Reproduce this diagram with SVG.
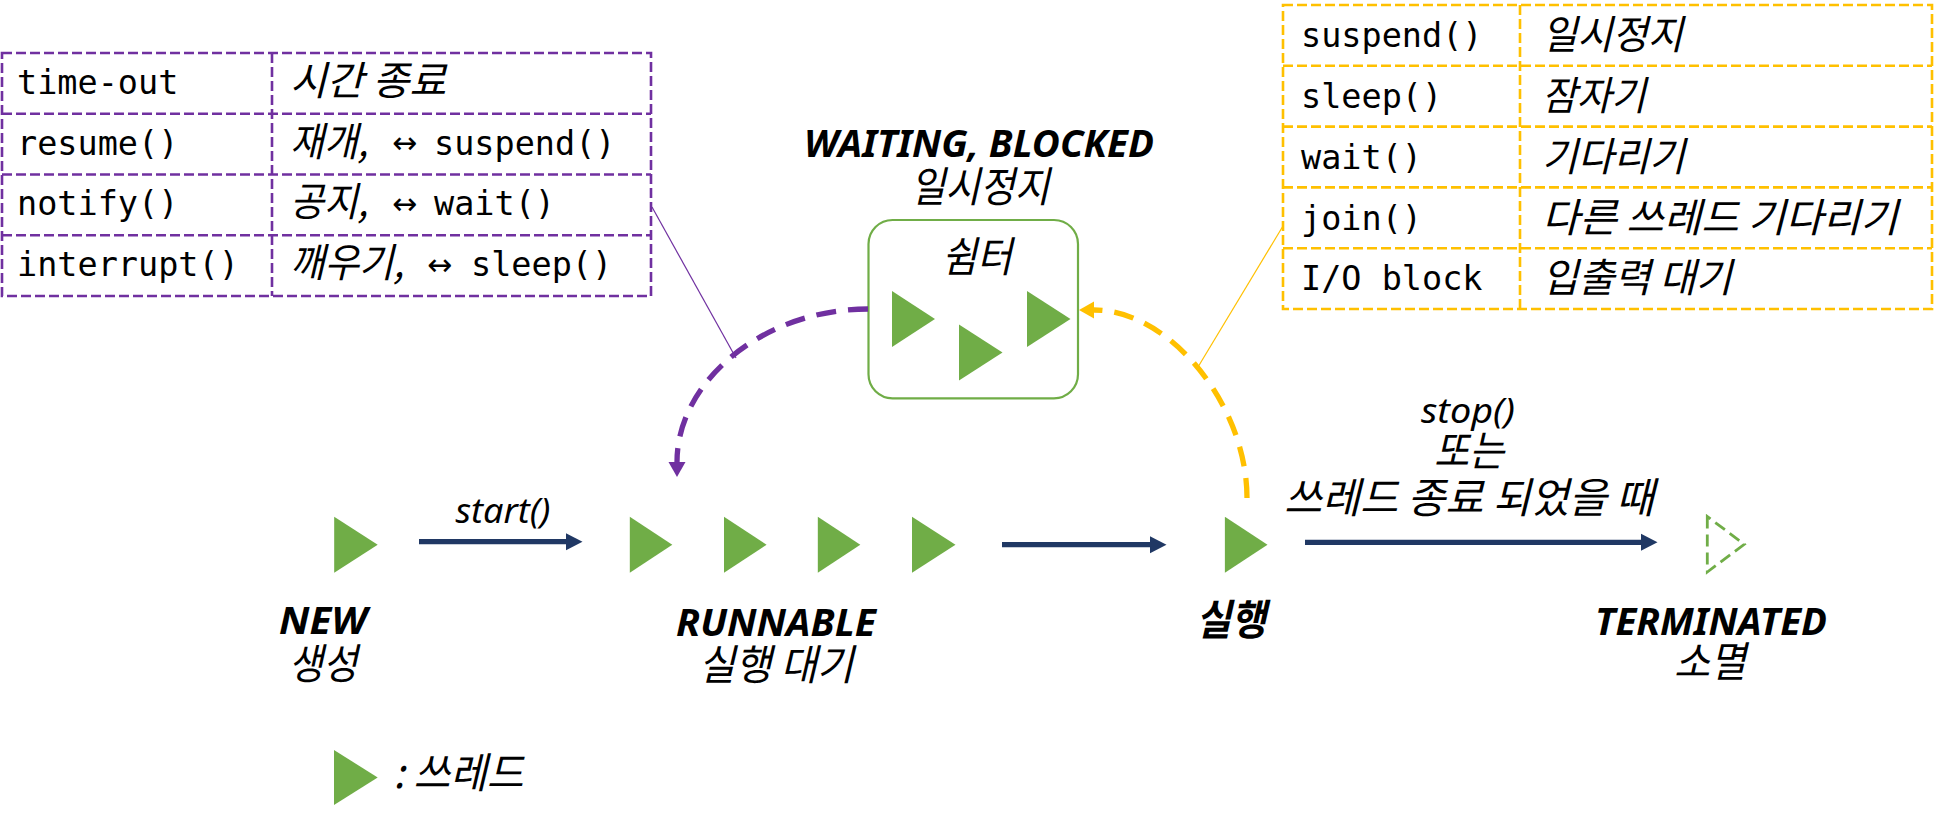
<svg xmlns="http://www.w3.org/2000/svg" width="1936" height="823" viewBox="0 0 1936 823">
<style>
.lbl{font-family:"Noto Sans","Noto Sans CJK KR",sans-serif;font-style:italic;font-weight:bold;font-size:38px;fill:#000;text-anchor:middle}
.kor{font-family:"Noto Sans CJK KR","Noto Sans",sans-serif;font-style:italic;font-size:42px;fill:#000;text-anchor:middle}
.korb{font-family:"Noto Sans CJK KR","Noto Sans",sans-serif;font-style:italic;font-weight:bold;font-size:42px;fill:#000;text-anchor:middle}
.it{font-family:"Noto Sans","Noto Sans CJK KR",sans-serif;font-style:italic;font-size:34px;fill:#000;text-anchor:middle}
.mono{font-family:"DejaVu Sans Mono","Liberation Mono",monospace;font-size:33.5px;fill:#000}
.kt{font-family:"Noto Sans CJK KR","Noto Sans",sans-serif;font-style:italic;font-size:40px;fill:#000}
.ar{font-family:"DejaVu Sans",sans-serif;font-size:30px;fill:#000}
.thr{fill:#70AD47}
.ptab{fill:none;stroke:#7030A0;stroke-width:2.6;stroke-dasharray:10 4}
.ytab{fill:none;stroke:#FFC000;stroke-width:2.6;stroke-dasharray:10 4}
.nav{stroke:#203864;stroke-width:5.3;fill:none}
</style>
<defs>
<marker id="ahN" markerUnits="userSpaceOnUse" markerWidth="20" markerHeight="20" refX="0" refY="0" orient="auto" overflow="visible">
<path d="M0,-8.5 L16.5,0 L0,8.5 z" fill="#203864"/>
</marker>
<marker id="ahP" markerUnits="userSpaceOnUse" markerWidth="20" markerHeight="20" refX="0" refY="0" orient="auto" overflow="visible">
<path d="M0,-8.5 L15,0 L0,8.5 z" fill="#7030A0"/>
</marker>
<marker id="ahY" markerUnits="userSpaceOnUse" markerWidth="20" markerHeight="20" refX="0" refY="0" orient="auto" overflow="visible">
<path d="M0,-8.5 L15,0 L0,8.5 z" fill="#FFC000"/>
</marker>
</defs>
<rect width="1936" height="823" fill="#fff"/>

<g id="purple-table">
<rect class="ptab" x="2" y="53" width="649" height="243"/>
<line class="ptab" x1="2" y1="113.75" x2="651" y2="113.75"/>
<line class="ptab" x1="2" y1="174.5" x2="651" y2="174.5"/>
<line class="ptab" x1="2" y1="235.25" x2="651" y2="235.25"/>
<line class="ptab" x1="272" y1="53" x2="272" y2="296"/>
<text class="mono" x="17" y="94">time-out</text>
<text class="mono" x="17" y="154.5">resume()</text>
<text class="mono" x="17" y="215">notify()</text>
<text class="mono" x="17" y="276">interrupt()</text>
<text class="kt" x="290" y="95" textLength="156" lengthAdjust="spacingAndGlyphs">시간 종료</text>
<text class="kt" x="290" y="155.5" textLength="78" lengthAdjust="spacingAndGlyphs">재개,</text>
<text class="ar" x="392" y="153">↔</text>
<text class="mono" x="434" y="154.5">suspend()</text>
<text class="kt" x="290" y="216" textLength="78" lengthAdjust="spacingAndGlyphs">공지,</text>
<text class="ar" x="392" y="214">↔</text>
<text class="mono" x="434" y="215">wait()</text>
<text class="kt" x="290" y="277" textLength="114" lengthAdjust="spacingAndGlyphs">깨우기,</text>
<text class="ar" x="427" y="275">↔</text>
<text class="mono" x="471" y="276">sleep()</text>
</g>

<g id="yellow-table">
<rect class="ytab" x="1283" y="5" width="649" height="304"/>
<line class="ytab" x1="1283" y1="65.8" x2="1932" y2="65.8"/>
<line class="ytab" x1="1283" y1="126.6" x2="1932" y2="126.6"/>
<line class="ytab" x1="1283" y1="187.4" x2="1932" y2="187.4"/>
<line class="ytab" x1="1283" y1="248.2" x2="1932" y2="248.2"/>
<line class="ytab" x1="1520" y1="5" x2="1520" y2="309"/>
<text class="mono" x="1301" y="47">suspend()</text>
<text class="mono" x="1301" y="108">sleep()</text>
<text class="mono" x="1301" y="168.5">wait()</text>
<text class="mono" x="1301" y="229.5">join()</text>
<text class="mono" x="1301" y="290">I/O block</text>
<text class="kt" x="1542" y="49" textLength="141" lengthAdjust="spacingAndGlyphs">일시정지</text>
<text class="kt" x="1542" y="110" textLength="104" lengthAdjust="spacingAndGlyphs">잠자기</text>
<text class="kt" x="1542" y="170.5" textLength="143" lengthAdjust="spacingAndGlyphs">기다리기</text>
<text class="kt" x="1542" y="231.5" textLength="356" lengthAdjust="spacingAndGlyphs">다른 쓰레드 기다리기</text>
<text class="kt" x="1542" y="292" textLength="190" lengthAdjust="spacingAndGlyphs">입출력 대기</text>
</g>

<g id="waiting">
<text class="lbl" x="979" y="157" textLength="350" lengthAdjust="spacingAndGlyphs">WAITING, BLOCKED</text>
<text class="kor" x="980" y="202" textLength="139" lengthAdjust="spacingAndGlyphs">일시정지</text>
<rect x="868.5" y="220" width="209.5" height="178.3" rx="24" fill="#fff" stroke="#70AD47" stroke-width="2.2"/>
<text class="kor" x="977" y="272" textLength="70" lengthAdjust="spacingAndGlyphs">쉼터</text>
<polygon class="thr" points="892,291 892,347 935,319"/>
<polygon class="thr" points="959,324.5 959,380.5 1002.5,352.5"/>
<polygon class="thr" points="1027,291 1027,347 1070.5,319"/>
</g>

<g id="new">
<polygon class="thr" points="334.2,516.7 334.2,572.7 377.7,544.7"/>
<text class="lbl" x="323" y="634" textLength="88" lengthAdjust="spacingAndGlyphs">NEW</text>
<text class="kor" x="323" y="679" textLength="69" lengthAdjust="spacingAndGlyphs">생성</text>
</g>

<g id="runnable">
<polygon class="thr" points="629.8,516.7 629.8,572.7 672.3,544.7"/>
<polygon class="thr" points="724,516.7 724,572.7 766.6,544.7"/>
<polygon class="thr" points="817.8,516.7 817.8,572.7 860.3,544.7"/>
<polygon class="thr" points="912,516.7 912,572.7 955.5,544.7"/>
<text class="lbl" x="776" y="636" textLength="200" lengthAdjust="spacingAndGlyphs">RUNNABLE</text>
<text class="kor" x="776" y="680" textLength="155" lengthAdjust="spacingAndGlyphs">실행 대기</text>
</g>

<g id="running">
<polygon class="thr" points="1224.9,516.7 1224.9,572.7 1267.5,544.7"/>
<text class="korb" x="1231" y="635" textLength="70" lengthAdjust="spacingAndGlyphs">실행</text>
</g>

<g id="terminated">
<polygon points="1707.3,516.5 1707.3,572 1744.3,544.3" fill="none" stroke="#70AD47" stroke-width="2.8" stroke-dasharray="12 6"/>
<text class="lbl" x="1711" y="635" textLength="232" lengthAdjust="spacingAndGlyphs">TERMINATED</text>
<text class="kor" x="1710" y="677" textLength="72" lengthAdjust="spacingAndGlyphs">소멸</text>
</g>

<g id="legend">
<polygon class="thr" points="334,750 334,805 377.7,777.5"/>
<text class="kor" x="393.5" y="788" style="text-anchor:start" textLength="130" lengthAdjust="spacingAndGlyphs">: 쓰레드</text>
</g>

<g id="connectors">
<line class="nav" x1="419" y1="541.7" x2="566" y2="541.7" marker-end="url(#ahN)"/>
<line class="nav" x1="1002" y1="544.7" x2="1150" y2="544.7" marker-end="url(#ahN)"/>
<line class="nav" x1="1305" y1="542.3" x2="1641" y2="542.3" marker-end="url(#ahN)"/>
<path d="M 868 309 C 765 309 677 380 677 462" fill="none" stroke="#7030A0" stroke-width="5.3" stroke-dasharray="20 12" marker-end="url(#ahP)"/>
<path d="M 1247 498 C 1247 405 1170 310 1094 310" fill="none" stroke="#FFC000" stroke-width="5.3" stroke-dasharray="20 12" marker-end="url(#ahY)"/>
<line x1="652" y1="207" x2="736" y2="358" stroke="#7030A0" stroke-width="1.2"/>
<line x1="1283" y1="226" x2="1198" y2="367" stroke="#FFC000" stroke-width="1.2"/>
<text class="it" x="503" y="523" textLength="95" lengthAdjust="spacingAndGlyphs">start()</text>
<text class="it" x="1468" y="423" textLength="94" lengthAdjust="spacingAndGlyphs">stop()</text>
<text class="kor" x="1469" y="466" textLength="70" lengthAdjust="spacingAndGlyphs">또는</text>
<text class="kor" x="1469" y="513" textLength="370" lengthAdjust="spacingAndGlyphs">쓰레드 종료 되었을 때</text>
</g>
</svg>
